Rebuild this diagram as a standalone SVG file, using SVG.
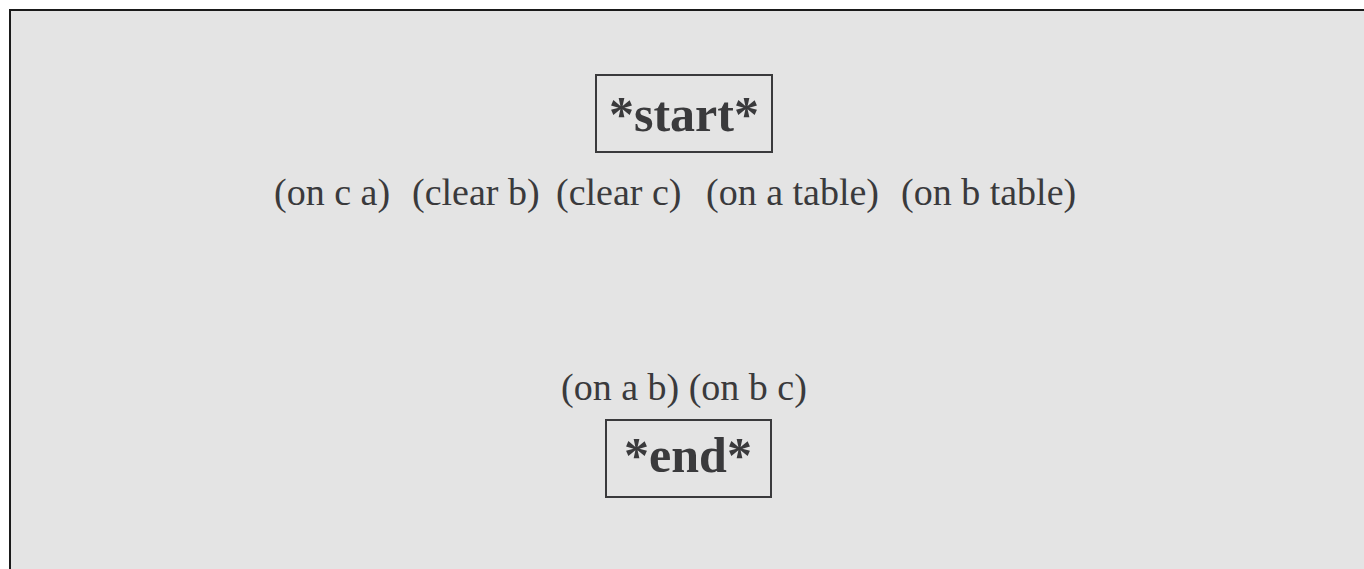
<svg xmlns="http://www.w3.org/2000/svg" width="1364" height="569" viewBox="0 0 1364 569">
<style>
.frame{fill:#e4e4e4;stroke:#1a1a1a;stroke-width:2}
.box{fill:none;stroke:#3a3a3c;stroke-width:2}
.lbl{font-family:"Liberation Serif",serif;font-size:38px;fill:#3a3a3c}
.title{font-family:"Liberation Serif",serif;font-size:50px;font-weight:bold;fill:#3a3a3c;text-anchor:middle}
</style>
<rect width="1364" height="569" fill="#ffffff"/>
<rect class="frame" x="10" y="10" width="1370" height="580"/>
<g id="start">
<rect class="box" x="596" y="75" width="176" height="77"/>
<text class="title" x="684" y="131">*start*</text>
</g>
<g id="start-effects">
<text class="lbl" x="274" y="205">(on c a)</text>
<text class="lbl" x="412" y="205">(clear b)</text>
<text class="lbl" x="556" y="205">(clear c)</text>
<text class="lbl" x="706" y="205">(on a table)</text>
<text class="lbl" x="901" y="205">(on b table)</text>
</g>
<g id="end">
<text class="lbl" x="561" y="400">(on a b) (on b c)</text>
<rect class="box" x="606" y="420" width="165" height="77"/>
<text class="title" x="688" y="472">*end*</text>
</g>
<g id="connectors"></g>
</svg>
